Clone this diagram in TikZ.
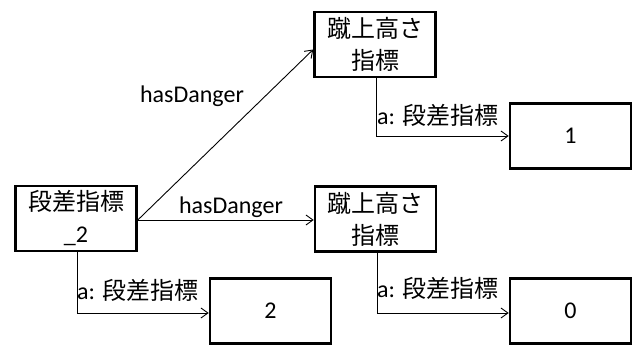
\documentclass[tikz,border=0pt]{standalone}
\usepackage{fontspec}
\setmainfont{Carlito}
\newfontfamily\cjk{Noto Sans CJK JP}
\usetikzlibrary{arrows.meta}
\tikzset{
  box/.style={draw, line width=2.6pt, minimum width=121pt, minimum height=65pt, inner sep=0pt, align=center, font=\fontsize{24}{32}\selectfont},
  arr/.style={draw, line width=0.9pt, -{Straight Barb[length=7pt,width=10pt,line width=0.9pt]}},
  lbl/.style={inner sep=0pt, font=\fontsize{24}{30}\selectfont}
}
\begin{document}
\begin{tikzpicture}[x=1pt,y=-1pt]
\useasboundingbox (0,0) rectangle (636,347);
\node[box] (A) at (76,218.5) {{\cjk 段差指標}\\\_2};
\node[box] (B) at (375,44.5) {\cjk 蹴上高さ\\\cjk 指標};
\node[box] (C) at (570.5,136) {1};
\node[box] (D) at (375.5,219) {\cjk 蹴上高さ\\\cjk 指標};
\node[box] (E) at (570.5,311) {0};
\node[box] (F) at (270.5,311) {2};
\draw[arr] ([yshift=-1.5pt]A.east) -- ([yshift=-5pt]B.west);
\draw[arr] ([yshift=-1.5pt]A.east) -- ([yshift=-1pt]D.west);
\draw[arr] ([xshift=1pt]A.south) |- ([yshift=-2pt]F.west);
\draw[arr] ([xshift=1.5pt]B.south) |- (C.west);
\draw[arr] ([xshift=1.5pt]D.south) |- ([yshift=-2pt]E.west);
\node[lbl] (l1) at (192,96) {hasDanger};
\node[lbl] (l2) at (231,207) {hasDanger};
\node[lbl, anchor=west] (l3) at (77,290) {a: {\cjk 段差指標}};
\node[lbl, anchor=west] (l4) at (377,115) {a: {\cjk 段差指標}};
\node[lbl, anchor=west] (l5) at (377,288) {a: {\cjk 段差指標}};
\end{tikzpicture}
\end{document}
